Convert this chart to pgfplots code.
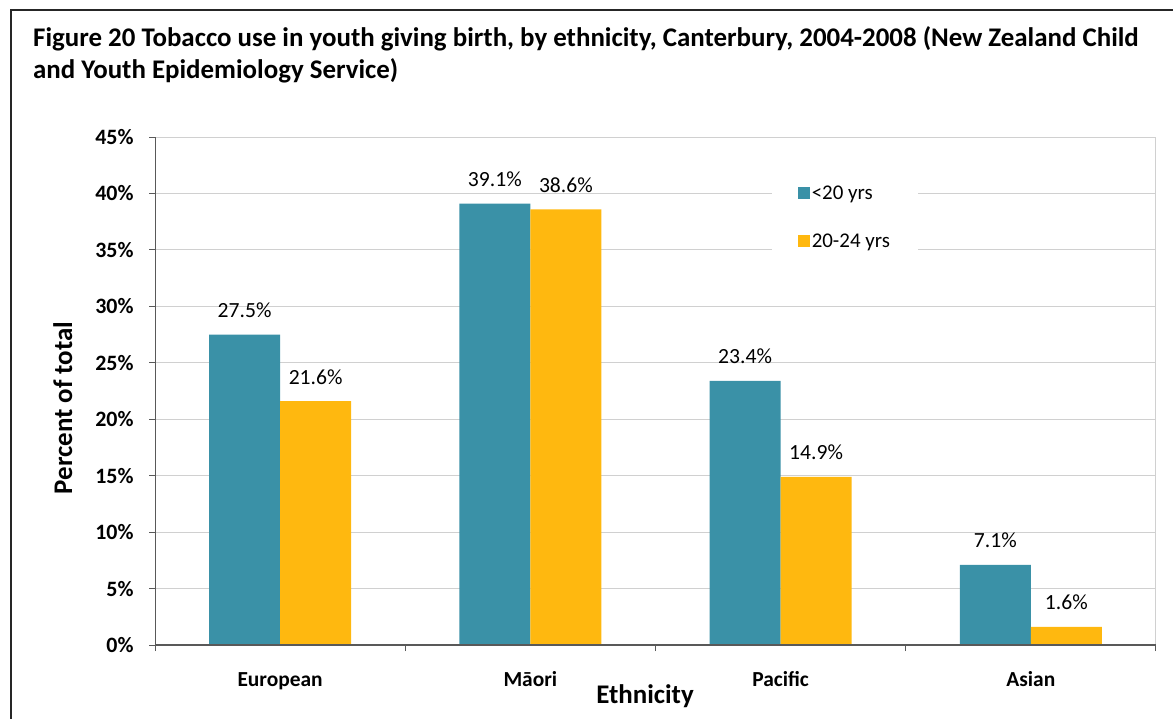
\documentclass[border=0pt]{standalone}
\usepackage{pgfplots}
\pgfplotsset{compat=1.18}
\usepackage{fontspec}
\setmainfont{Carlito}

\definecolor{tealbar}{HTML}{3A91A7}
\definecolor{goldbar}{HTML}{FFB80F}
\definecolor{gridgray}{HTML}{D0D0D0}
\definecolor{axisgray}{HTML}{595959}

\begin{document}
\begin{tikzpicture}
\path[use as bounding box] (0,0) rectangle (1173bp,-719bp);
% outer frame
\draw[line width=2bp, black!85] (11bp,-719bp) -- (11bp,-10bp) -- (1173bp,-10bp);
% title
\node[anchor=base west, inner sep=0, font=\fontsize{27}{32}\selectfont\bfseries]
  at (33bp,-46bp) {Figure 20 Tobacco use in youth giving birth, by ethnicity, Canterbury, 2004-2008 (New Zealand Child};
\node[anchor=base west, inner sep=0, font=\fontsize{27}{32}\selectfont\bfseries]
  at (33bp,-78bp) {and Youth Epidemiology Service)};

\begin{axis}[
  at={(155bp,-645bp)}, anchor=south west, scale only axis,
  width=1001bp, height=508bp,
  ybar, bar width=0.284,
  xmin=-0.5, xmax=3.5, ymin=0, ymax=45,
  ytick={0,5,...,45},
  yticklabel={\fontsize{22}{26}\selectfont\bfseries\pgfmathprintnumber{\tick}\%},
  /pgf/number format/assume math mode=true,
  xtick={-0.5,0.5,1.5,2.5,3.5}, xticklabels={},
  extra x ticks={0,1,2,3},
  extra x tick labels={European,Māori,Pacific,Asian},
  extra x tick style={major tick length=0pt},
  xticklabel style={anchor=base, yshift=-41bp, font=\fontsize{21.5}{25}\selectfont\bfseries},
  yticklabel style={anchor=east, xshift=-12bp},
  xtick pos=bottom, ytick pos=left,
  tick align=outside, major tick length=6bp,
  tick style={axisgray, line width=1bp},
  ymajorgrids, grid style={gridgray, line width=1bp},
  axis line style={gridgray, line width=1bp},
  nodes near coords={\pgfmathprintnumber[fixed,precision=1,fixed zerofill]{\pgfplotspointmeta}\%},
  nodes near coords style={anchor=base, yshift=17bp, font=\fontsize{21.7}{25}\selectfont, text=black},
  legend style={at={(axis cs:1.964,41.6)}, anchor=north west, draw=none, fill=white,
    inner xsep=26bp, inner ysep=8bp, row sep=29bp,
    font=\fontsize{21}{25}\selectfont, cells={anchor=west}},
  legend image code/.code={\fill[#1] (0bp,-6bp) rectangle (12bp,6bp);},
]
\addplot[fill=tealbar, draw=none, bar shift=-0.142] coordinates {(0,27.5) (1,39.1) (2,23.4) (3,7.1)};
\addplot[fill=goldbar, draw=none, bar shift=0.142] coordinates {(0,21.6) (1,38.6) (2,14.9) (3,1.6)};
\legend{<20 yrs, 20-24 yrs}
\draw[axisgray, line width=1.5bp] (rel axis cs:0,1) -- (rel axis cs:0,0) -- (rel axis cs:1,0);
\end{axis}

% axis titles
\node[rotate=90, anchor=base, inner sep=0, font=\fontsize{27}{32}\selectfont\bfseries]
  at (72bp,-408bp) {Percent of total};
\node[anchor=base, inner sep=0, font=\fontsize{27}{32}\selectfont\bfseries]
  at (645bp,-703bp) {Ethnicity};
\end{tikzpicture}
\end{document}
